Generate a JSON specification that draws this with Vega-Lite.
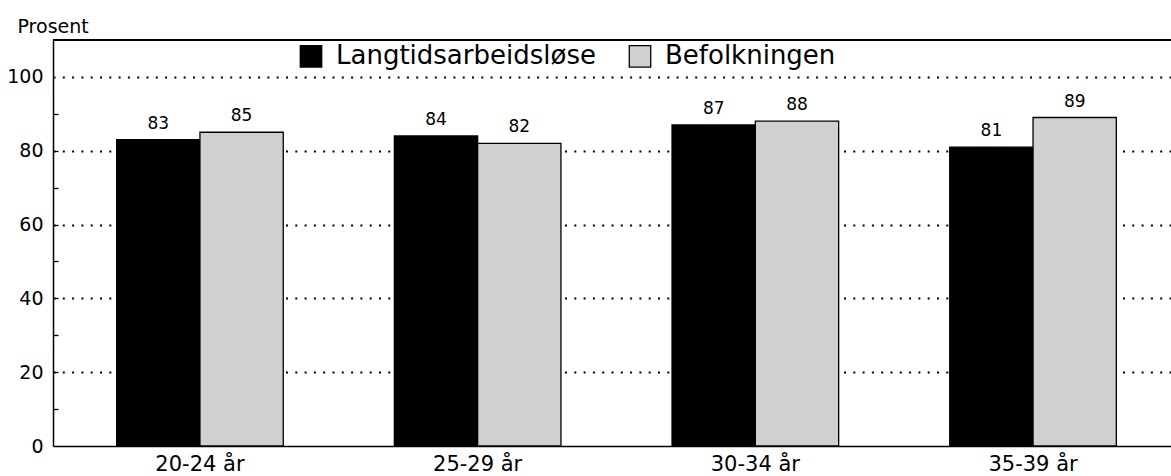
{
  "$schema": "https://vega.github.io/schema/vega-lite/v6.json",
  "width": 1118,
  "height": 406,
  "autosize": {"type": "none"},
  "padding": {"left": 53, "top": 40, "right": 0, "bottom": 30},
  "background": "white",
  "config": {"view": {"stroke": null}, "font": "DejaVu Sans"},
  "data": {
    "values": [
      {"group": "20-24 år", "series": "Langtidsarbeidsløse", "value": 83},
      {"group": "20-24 år", "series": "Befolkningen", "value": 85},
      {"group": "25-29 år", "series": "Langtidsarbeidsløse", "value": 84},
      {"group": "25-29 år", "series": "Befolkningen", "value": 82},
      {"group": "30-34 år", "series": "Langtidsarbeidsløse", "value": 87},
      {"group": "30-34 år", "series": "Befolkningen", "value": 88},
      {"group": "35-39 år", "series": "Langtidsarbeidsløse", "value": 81},
      {"group": "35-39 år", "series": "Befolkningen", "value": 89}
    ]
  },
  "resolve": {"axis": {"y": "independent"}},
  "layer": [
    {
      "mark": {"type": "bar", "stroke": "black", "strokeWidth": 1.3},
      "encoding": {
        "x": {
          "field": "group", "type": "nominal", "sort": null,
          "scale": {"paddingInner": 0.4, "paddingOuter": 0.213, "align": 0.538},
          "axis": {"title": null, "labelAngle": 0, "ticks": false, "labelFontSize": 21, "labelColor": "black", "labelPadding": 7, "domainColor": "black", "domainWidth": 1.5}
        },
        "xOffset": {"field": "series", "type": "nominal", "sort": ["Langtidsarbeidsløse", "Befolkningen"], "scale": {"paddingInner": 0, "paddingOuter": 0}},
        "y": {
          "field": "value", "type": "quantitative",
          "scale": {"domain": [0, 110], "nice": false},
          "axis": {
            "values": [0, 20, 40, 60, 80, 100],
            "labelFontSize": 19, "labelColor": "black", "labelPadding": 10,
            "ticks": false,
            "domainColor": "black", "domainWidth": 1.5,
            "grid": true, "gridColor": "black", "gridDash": [2, 7.3], "gridWidth": 1.8,
            "gridOpacity": {"condition": {"test": "datum.value > 0", "value": 1}, "value": 0},
            "title": "Prosent", "titleAngle": 0, "titleAlign": "left", "titleBaseline": "alphabetic",
            "titleX": -36, "titleY": -8, "titleFontSize": 19, "titleFontWeight": "normal", "titleColor": "black"
          }
        },
        "color": {
          "field": "series", "type": "nominal",
          "scale": {"domain": ["Langtidsarbeidsløse", "Befolkningen"], "range": ["#000000", "#d0d0d0"]},
          "legend": {
            "title": null, "orient": "none", "direction": "horizontal",
            "legendX": 245, "legendY": 3, "padding": 0,
            "symbolType": "square", "symbolSize": 460, "symbolStrokeColor": "black", "symbolStrokeWidth": 1.3,
            "labelFontSize": 26, "labelColor": "black", "labelOffset": 12, "labelLimit": 0, "columnPadding": 30
          }
        }
      }
    },
    {
      "mark": {"type": "text", "dy": -11, "fontSize": 17, "color": "black", "baseline": "alphabetic"},
      "encoding": {
        "x": {"field": "group", "type": "nominal", "sort": null},
        "xOffset": {"field": "series", "type": "nominal", "sort": ["Langtidsarbeidsløse", "Befolkningen"]},
        "y": {"field": "value", "type": "quantitative", "axis": null},
        "text": {"field": "value", "type": "quantitative"}
      }
    },
    {
      "mark": {"type": "rule", "color": "black", "strokeWidth": 1.5},
      "encoding": {
        "y": {
          "datum": 110,
          "axis": {
            "orient": "left", "offset": -5, "values": [10, 20, 30, 40, 50, 60, 70, 80, 90],
            "tickSize": 5, "tickColor": "black", "tickWidth": 1.3,
            "domain": false, "labels": false, "grid": false, "title": null
          }
        }
      }
    }
  ]
}
